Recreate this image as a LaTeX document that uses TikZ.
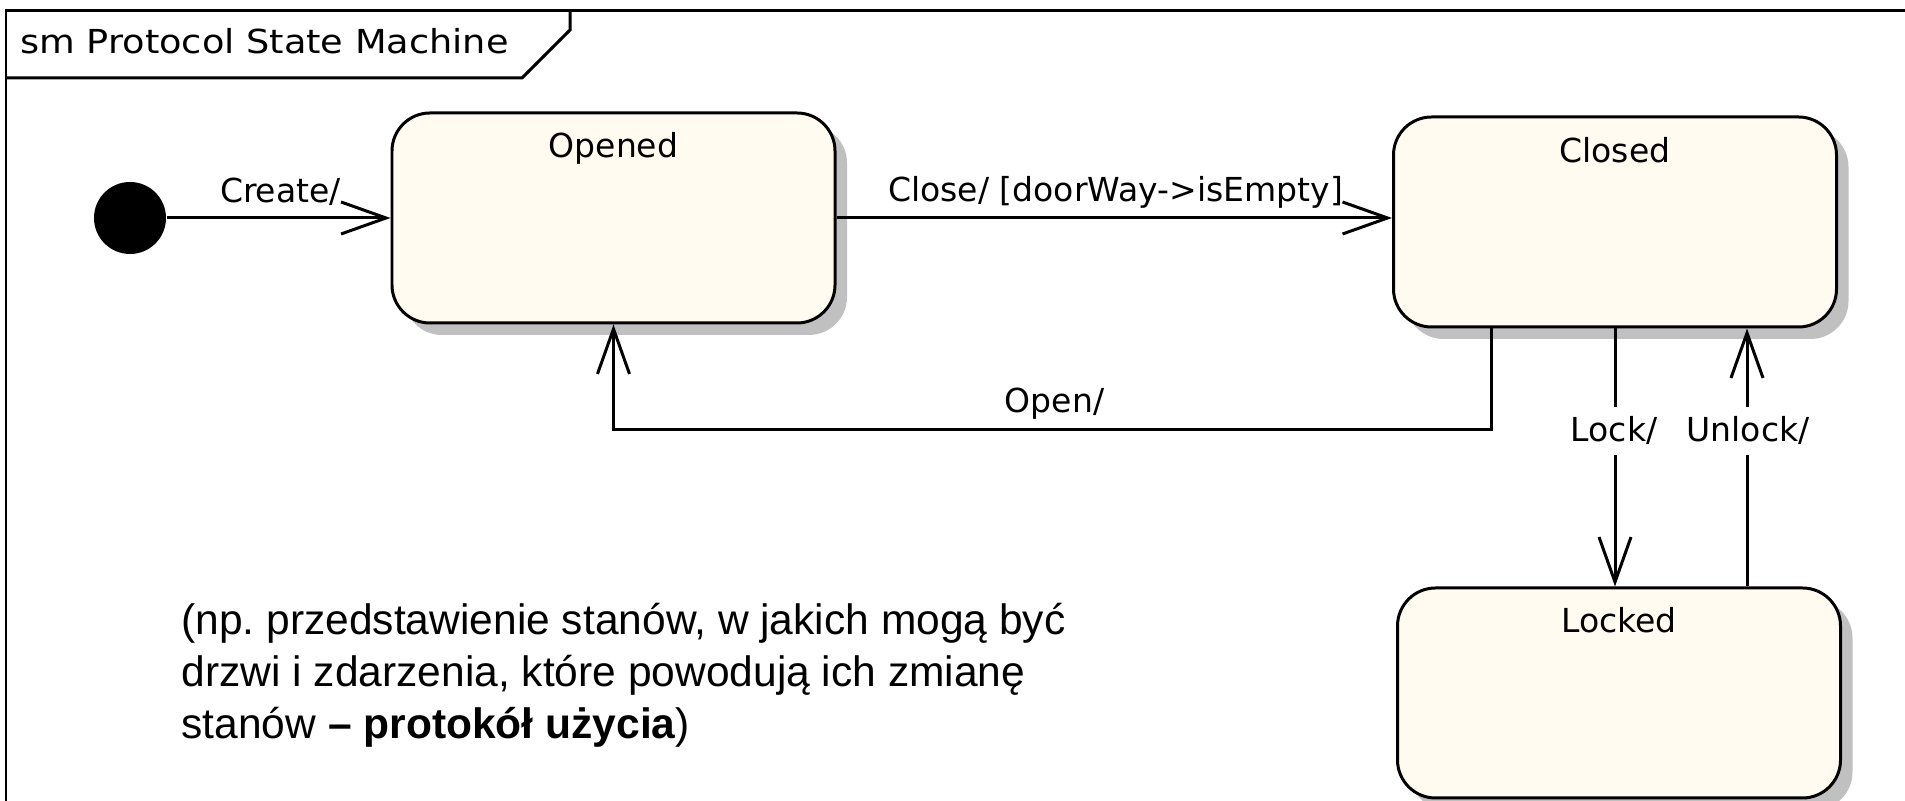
\documentclass[tikz,border=0pt]{standalone}
\usepackage{fontspec}
\setmainfont{Liberation Sans}
\newfontfamily\umlfont{DejaVu Sans}
\newfontfamily\tabfont{DejaVu Sans}[FakeStretch=1.11]
\usetikzlibrary{arrows.meta,positioning,shadows}
\definecolor{statefill}{RGB}{255,251,240}
\definecolor{shadowgray}{RGB}{192,192,192}
\frenchspacing
\tikzset{
  state/.style={draw, fill=statefill, rounded corners=0.38cm,
    minimum width=4.43cm, minimum height=2.1cm, inner sep=0,
    drop shadow={shadow xshift=0.12cm, shadow yshift=-0.12cm, fill=shadowgray, opacity=1}},
  statename/.style={font=\umlfont\fontsize{9.4pt}{11pt}\selectfont, inner sep=0, anchor=base},
  event/.style={font=\umlfont\fontsize{9.4pt}{11pt}\selectfont, inner sep=0, anchor=base},
  gap/.style={fill=white, inner xsep=0.05cm, inner ysep=0.095cm},
  trans/.style={-{Straight Barb[length=0.45cm, width=0.32cm]}},
}
\begin{document}
\begin{tikzpicture}[line width=0.85pt]
  \useasboundingbox (0,0) rectangle (19.05,-8.01);
  \clip (0,0) rectangle (19.05,-8.01);
  % frame and its tab
  \draw (0.06,-8.4) -- (0.06,-0.11) -- (19.5,-0.11);
  \draw (0.06,-0.78) -- (5.22,-0.78) -- (5.70,-0.30) -- (5.70,-0.11);
  \node[font=\tabfont\fontsize{9.4pt}{11pt}\selectfont, inner sep=0, anchor=base west] (title) at (0.19,-0.54) {sm Protocol State Machine};
  % states
  \node[circle, fill=black, minimum size=0.72cm, inner sep=0] (init) at (1.30,-2.18) {};
  \node[state] (opened) at (6.135,-2.18) {};
  \node[state] (closed) at (16.15,-2.22) {};
  \node[state] (locked) at (16.19,-6.93) {};
  \node[statename] (openedname) at ([yshift=-0.46cm]opened.north) {Opened};
  \node[statename] (closedname) at ([yshift=-0.47cm]closed.north) {Closed};
  \node[statename] (lockedname) at ([yshift=-0.46cm]locked.north) {Locked};
  % transitions
  \coordinate (openbend) at (6.135,-4.30);
  \draw[trans] (init) -- (opened);
  \draw[trans] (opened.east) -- (opened.east -| closed.west);
  \draw[trans] ([xshift=-1.24cm]closed.south) |- (openbend) -- (opened.south);
  \draw[trans] (closed.south) -- (closed.south |- locked.north);
  \draw[trans] ([xshift=1.28cm]locked.north) -- ([xshift=1.28cm]locked.north |- closed.south);
  \node[event] (create) at (2.805,-2.03) {Create/};
  \node[event] (close) at (11.155,-2.02) {Close/ [doorWay->isEmpty]};
  \node[event] (open) at (10.545,-4.13) {Open/};
  \node[event, gap] (lock) at (16.14,-4.42) {Lock/};
  \node[event, gap] (unlock) at (17.48,-4.42) {Unlock/};
  % comment text
  \node[anchor=north west, inner sep=0, align=left, font=\fontsize{12.1pt}{14.8pt}\selectfont] (note) at (1.80,-6.02)
    {(np. przedstawienie stanów, w jakich mogą być\\drzwi i zdarzenia, które powodują ich zmianę\\stanów \textbf{– protokół użycia})};
\end{tikzpicture}
\end{document}
